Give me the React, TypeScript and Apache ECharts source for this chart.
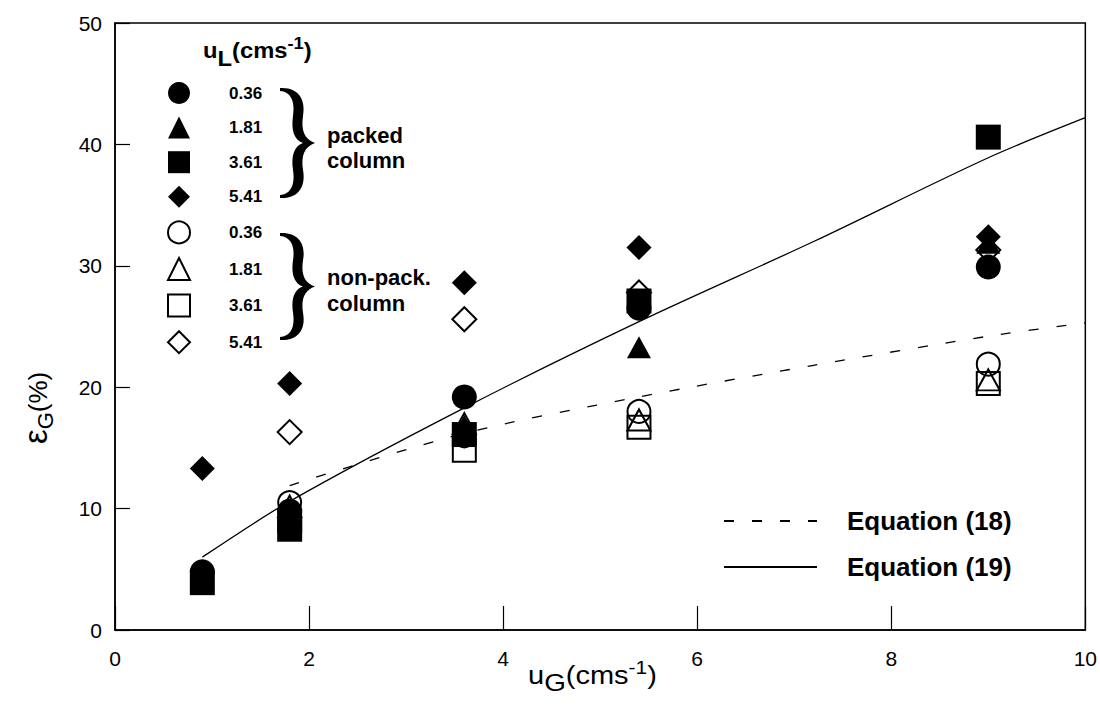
import React, { useEffect, useRef } from "react";
import * as echarts from "echarts";

// ---------- data ----------
const xMin = 0;
const xMax = 10;
const xInterval = 2;
const yMin = 0;
const yMax = 50;
const yInterval = 10;

const liquidVelocities = ["0.36", "1.81", "3.61", "5.41"];

// packed column (filled symbols): [uG, epsG]
const packed036 = [[0.9, 4.8], [1.8, 9.8], [3.6, 19.2], [5.4, 26.5], [9.0, 29.9]];
const packed181 = [[0.9, 4.3], [1.8, 9.5], [3.6, 16.8], [5.4, 23.3], [9.0, 31.9]];
const packed361 = [[0.9, 3.9], [1.8, 8.3], [3.6, 16.1], [5.4, 27.1], [9.0, 40.6]];
const packed541 = [[0.9, 13.3], [1.8, 20.3], [3.6, 28.6], [5.4, 31.5], [9.0, 32.4]];

// non-packed column (open symbols)
const nonpack036 = [[1.8, 10.5], [3.6, 16.0], [5.4, 18.0], [9.0, 21.9]];
const nonpack181 = [[1.8, 10.2], [3.6, 17.0], [5.4, 17.3], [9.0, 20.6]];
const nonpack361 = [[1.8, 9.0], [3.6, 14.8], [5.4, 16.7], [9.0, 20.3]];
const nonpack541 = [[1.8, 16.3], [3.6, 25.6], [5.4, 27.8], [9.0, 31.3]];

// correlation curves
const eq18X = [1.8, 3.6, 5.4, 7.2, 9.0, 10];
const eq18Y = [11.9, 16.2, 19.2, 21.8, 24.2, 25.3];
const eq19X = [0.9, 1.8, 3.6, 5.4, 7.2, 9.0, 10];
const eq19Y = [6.0, 10.6, 18.3, 25.4, 32.0, 38.9, 42.2];

const FONT = '"Liberation Sans", Arial, Helvetica, sans-serif';

const BRACE_D =
  "M0,0 C19,-1 26,12 23,28 C21,42 24,51 35,55 C24,59 21,68 23,82 C26,98 19,111 0,110 L0,107 C12,106 15,95 13,82 C11,68 14,58 23,55 C14,52 11,42 13,28 C15,15 12,4 0,3 Z";
echarts.graphic.registerShape("brace", echarts.graphic.extendPath(BRACE_D, {}));

let measureCtx: CanvasRenderingContext2D | null = null;
function measure(text: string, size: number, weight: string) {
  if (!measureCtx) measureCtx = document.createElement("canvas").getContext("2d");
  if (!measureCtx) return text.length * size * 0.55;
  measureCtx.font = `${weight} ${size}px ${FONT}`;
  return measureCtx.measureText(text).width;
}

type Piece = { text: string; size: number; dy: number };
function textRun(pieces: Piece[], x0: number, baseline: number, weight: string) {
  let x = x0;
  const out: any[] = [];
  for (const p of pieces) {
    out.push({
      type: "text",
      x,
      y: baseline + p.dy - 0.35 * p.size,
      silent: true,
      style: {
        text: p.text,
        fontSize: p.size,
        fontWeight: weight,
        fontFamily: FONT,
        fill: "#000",
        align: "left",
        verticalAlign: "middle",
        textAlign: "left",
        textVerticalAlign: "middle",
      },
    });
    x += measure(p.text, p.size, weight);
  }
  return out;
}

function dataPairs(xs: number[], ys: number[]) {
  return xs.map((x, i) => [x, ys[i]]);
}

export default function App() {
  const ref = useRef<HTMLDivElement>(null);

  useEffect(() => {
    if (!ref.current) return;
    const chart = echarts.init(ref.current, undefined, { renderer: "svg" });

    const filled = (name: string, symbol: string, size: any, data: number[][]) => ({
      type: "scatter",
      name,
      symbol,
      symbolSize: size,
      data,
      z: 4,
      itemStyle: { color: "#000", opacity: 1 },
      emphasis: { disabled: true },
    });
    const open = (name: string, symbol: string, size: any, data: number[][]) => ({
      type: "scatter",
      name,
      symbol,
      symbolSize: size,
      data,
      z: 3,
      itemStyle: { color: "rgba(255,255,255,0)", borderColor: "#000", borderWidth: 2, opacity: 1 },
      emphasis: { disabled: true },
    });

    const legendNames = [
      ...liquidVelocities.map((v) => "p" + v),
      ...liquidVelocities.map((v) => "n" + v),
    ];

    const graphic: any[] = [
      // legend header u_L(cms^-1)
      {
        type: "group",
        x: 203,
        y: 0,
        scaleX: 1.08,
        children: textRun(
          [
            { text: "u", size: 22, dy: 0 },
            { text: "L", size: 22, dy: 8 },
            { text: "(cms", size: 22, dy: 0 },
            { text: "-1", size: 17, dy: -9 },
            { text: ")", size: 22, dy: 0 },
          ],
          0,
          58,
          "bold"
        ),
      },
      { type: "brace", x: 280, y: 88, scaleX: 1.0, scaleY: 1, style: { fill: "#000" } },
      { type: "brace", x: 280, y: 233, scaleX: 1.0, scaleY: 107 / 110, style: { fill: "#000" } },
      {
        type: "text",
        x: 327,
        y: 147.5,
        style: {
          text: "packed\ncolumn",
          fontSize: 22,
          fontWeight: "bold",
          fontFamily: FONT,
          lineHeight: 25,
          fill: "#000",
          align: "left",
          verticalAlign: "middle",
        },
      },
      {
        type: "text",
        x: 327,
        y: 290,
        style: {
          text: "non-pack.\ncolumn",
          fontSize: 22,
          fontWeight: "bold",
          fontFamily: FONT,
          lineHeight: 26,
          fill: "#000",
          align: "left",
          verticalAlign: "middle",
        },
      },
      // x axis title u_G(cms^-1)
      {
        type: "group",
        x: 528,
        y: 0,
        scaleX: 1.16,
        children: textRun(
          [
            { text: "u", size: 25, dy: 0 },
            { text: "G", size: 24, dy: 7 },
            { text: "(cms", size: 25, dy: 0 },
            { text: "-1", size: 18, dy: -10 },
            { text: ")", size: 25, dy: 0 },
          ],
          0,
          684,
          "normal"
        ),
      },
      // y axis title eps_G(%)
      {
        type: "group",
        x: 47,
        y: 444,
        rotation: Math.PI / 2,
        children: textRun(
          [
            { text: "ε", size: 33, dy: 0 },
            { text: "G", size: 22, dy: 6 },
            { text: "(%)", size: 26, dy: 0 },
          ],
          0,
          0,
          "normal"
        ),
      },
    ];

    chart.setOption({
      animation: false,
      backgroundColor: "#fff",
      textStyle: { fontFamily: FONT },
      grid: {
        left: 115,
        right: 14,
        top: 23,
        bottom: 76,
        show: true,
        borderColor: "#000",
        borderWidth: 1.5,
        backgroundColor: "transparent",
      },
      xAxis: {
        type: "value",
        min: xMin,
        max: xMax,
        interval: xInterval,
        axisLine: { show: true, lineStyle: { color: "#000", width: 1.5 } },
        axisTick: { show: true, inside: true, length: 24, lineStyle: { color: "#000", width: 1.2 } },
        axisLabel: { fontSize: 21, color: "#000", margin: 18, fontFamily: FONT },
        splitLine: { show: false },
      },
      yAxis: {
        type: "value",
        min: yMin,
        max: yMax,
        interval: yInterval,
        axisLine: { show: true, lineStyle: { color: "#000", width: 1.5 } },
        axisTick: { show: true, inside: true, length: 15, lineStyle: { color: "#000", width: 1.2 } },
        axisLabel: { fontSize: 21, color: "#000", margin: 13, fontFamily: FONT },
        splitLine: { show: false },
      },
      legend: [
        {
          data: legendNames,
          orient: "vertical",
          left: 167,
          top: 82,
          padding: 0,
          itemWidth: 22,
          itemHeight: 22,
          itemGap: 12.6,
          selectedMode: false,
          formatter: (n: string) => n.slice(1),
          textStyle: {
            fontSize: 17,
            fontWeight: "bold",
            color: "#000",
            fontFamily: FONT,
            lineHeight: 20,
            padding: [0, 0, 0, 34],
          },
        },
        {
          data: ["Equation (18)", "Equation (19)"],
          orient: "vertical",
          left: 723,
          top: 507,
          padding: 0,
          itemWidth: 93,
          itemHeight: 20,
          itemGap: 18,
          selectedMode: false,
          itemStyle: { color: "rgba(0,0,0,0)", borderWidth: 0 },
          textStyle: {
            fontSize: 26,
            fontWeight: "bold",
            color: "#000",
            fontFamily: FONT,
            lineHeight: 28,
            padding: [0, 0, 0, 25],
          },
        },
      ],
      graphic,
      series: [
        {
          type: "line",
          name: "Equation (18)",
          data: dataPairs(eq18X, eq18Y),
          symbol: "none",
          smooth: 0.3,
          z: 2,
          lineStyle: { color: "#000", width: 1.3, type: [10, 18] },
          itemStyle: { color: "#000" },
          emphasis: { disabled: true },
        },
        {
          type: "line",
          name: "Equation (19)",
          data: dataPairs(eq19X, eq19Y),
          symbol: "none",
          smooth: 0.3,
          z: 2,
          lineStyle: { color: "#000", width: 1.3, type: "solid" },
          itemStyle: { color: "#000" },
          emphasis: { disabled: true },
        },
        open("n0.36", "circle", 23, nonpack036),
        open("n1.81", "triangle", [23, 21], nonpack181),
        open("n3.61", "rect", 23, nonpack361),
        open("n5.41", "diamond", 24, nonpack541),
        filled("p0.36", "circle", 25, packed036),
        filled("p1.81", "triangle", [24, 22], packed181),
        filled("p3.61", "rect", 25, packed361),
        filled("p5.41", "diamond", 25, packed541),
      ],
    });

    return () => chart.dispose();
  }, []);

  return (
    <div
      ref={ref}
      style={{ position: "fixed", left: 0, top: 0, width: 1100, height: 706, background: "#fff" }}
    />
  );
}
